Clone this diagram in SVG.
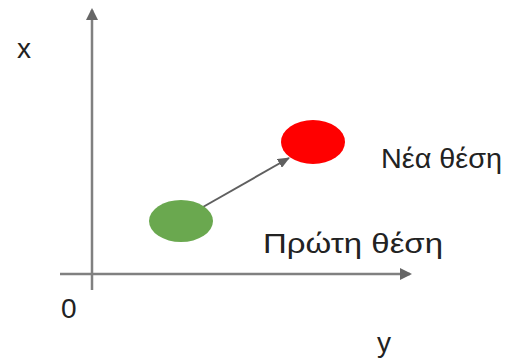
<svg xmlns="http://www.w3.org/2000/svg" width="520" height="360" viewBox="0 0 520 360">
<style>
.ax{stroke:#808080;stroke-width:2.5;fill:none}
.lbl{font-family:"Liberation Sans",Arial,sans-serif;font-size:28px;fill:#222}
.con{stroke:#5f5f5f;stroke-width:2;fill:none}
</style>
<defs>
<marker id="axh" markerWidth="12" markerHeight="12" refX="10" refY="6" orient="auto" markerUnits="userSpaceOnUse"><path d="M0,0 L12,6 L0,12 Z" fill="#666"/></marker>
<marker id="ch" markerWidth="12" markerHeight="10" refX="11" refY="5" orient="auto" markerUnits="userSpaceOnUse"><path d="M0,0 L12,5 L0,10 Z" fill="#5f5f5f"/></marker>
</defs>
<rect width="520" height="360" fill="#fff"/>
<g id="axes">
<line class="ax" x1="92" y1="290" x2="92" y2="10" marker-end="url(#axh)"/>
<line class="ax" x1="60" y1="274" x2="410" y2="274" marker-end="url(#axh)"/>
</g>
<g id="connectors">
<line class="con" x1="203" y1="207" x2="289" y2="158" marker-end="url(#ch)"/>
</g>
<g id="start"><ellipse cx="181" cy="221" rx="32" ry="21" fill="#6aa84f"/><text class="lbl" x="263" y="253" textLength="180" lengthAdjust="spacingAndGlyphs">Πρώτη θέση</text></g>
<g id="end"><ellipse cx="313" cy="142" rx="32" ry="22" fill="#ff0000"/><text class="lbl" x="381" y="168" textLength="121" lengthAdjust="spacingAndGlyphs">Νέα θέση</text></g>
<text class="lbl" x="17" y="58">x</text>
<text class="lbl" x="61" y="318">0</text>
<text class="lbl" x="377" y="352">y</text>
</svg>
